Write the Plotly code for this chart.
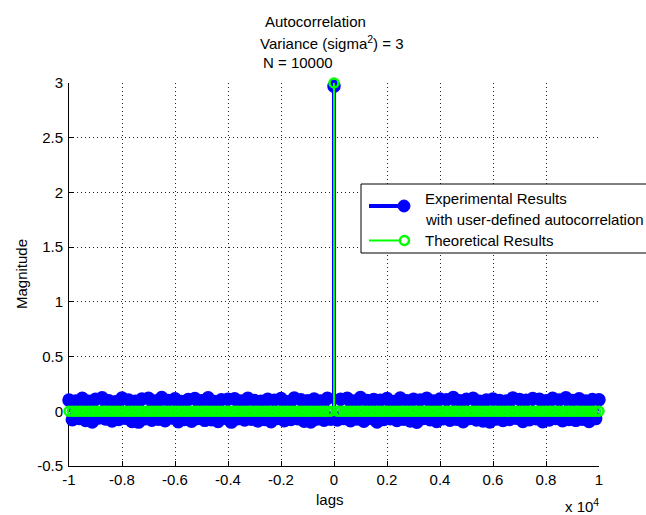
import plotly.graph_objects as go

# ---------------- data ----------------
lag_step = 125
exp_lags = list(range(-10000, 10001, lag_step))  # 161 sampled lags

exp_vals = [
    0.102, -0.078, 0.094, -0.066, 0.118, -0.085, 0.091, -0.097, 0.109, -0.062,
    0.124, -0.071, 0.097, -0.089, 0.088, -0.075, 0.121, -0.064, 0.103, -0.093,
    0.092, -0.099, 0.112, -0.068, 0.119, -0.081, 0.095, -0.072, 0.126, -0.087,
    0.098, -0.061, 0.114, -0.096, 0.089, -0.074, 0.108, -0.091, 0.117, -0.066,
    0.096, -0.083, 0.123, -0.077, 0.090, -0.094, 0.106, -0.063, 0.111, -0.099,
    0.115, -0.069, 0.093, -0.080, 0.120, -0.073, 0.099, -0.088, 0.092, -0.076,
    0.110, -0.095, 0.101, -0.065, 0.116, -0.086, 0.087, -0.074, 0.122, -0.068,
    0.105, -0.090, 0.096, -0.098, 0.113, -0.070, 0.094, -0.082, 0.118, -0.072,
    2.97,
    -0.079, 0.111, -0.067, 0.119, -0.087, 0.095, -0.071, 0.125, -0.092, 0.099,
    -0.064, 0.107, -0.097, 0.100, -0.076, 0.117, -0.069, 0.090, -0.084, 0.121,
    -0.073, 0.096, -0.088, 0.110, -0.100, 0.104, -0.065, 0.118, -0.078, 0.093,
    -0.094, 0.113, -0.068, 0.106, -0.082, 0.126, -0.072, 0.097, -0.096, 0.109,
    -0.066, 0.120, -0.080, 0.091, -0.089, 0.102, -0.098, 0.112, -0.070, 0.099,
    -0.085, 0.094, -0.075, 0.122, -0.063, 0.107, -0.093, 0.101, -0.077, 0.116,
    -0.069, 0.110, -0.095, 0.097, -0.080, 0.118, -0.066, 0.104, -0.086, 0.124,
    -0.075, 0.098, -0.083, 0.115, -0.073, 0.093, -0.094, 0.108, -0.067, 0.106,
]

theo_lags = exp_lags
theo_vals = [0.0] * 80 + [3.0] + [0.0] * 80

x_tickvals = [-10000, -8000, -6000, -4000, -2000, 0, 2000, 4000, 6000, 8000, 10000]
x_ticktext = ["-1", "-0.8", "-0.6", "-0.4", "-0.2", "0", "0.2", "0.4", "0.6", "0.8", "1"]
y_tickvals = [-0.5, 0, 0.5, 1, 1.5, 2, 2.5, 3]
y_ticktext = ["-0.5", "0", "0.5", "1", "1.5", "2", "2.5", "3"]

title_lines = ["Autocorrelation", "Variance (sigma<sup>2</sup>) = 3", "N = 10000"]
legend_labels = ["Experimental Results", "with user-defined autocorrelation", "Theoretical Results"]

# ---------------- styling ----------------
W, H = 646, 515
L, R, T, B = 69, 47, 83, 49
PW, PH = W - L - R, H - T - B
FONT = "Liberation Sans, Arial, Helvetica, sans-serif"
FS = 15
BLUE = "#0000ff"
GREEN = "#00ff00"


def px(x):
    return (x - L) / PW


def py(y):
    return (H - B - y) / PH


def stems(lags, vals):
    xs, ys = [], []
    for l, v in zip(lags, vals):
        xs += [l, l, None]
        ys += [0, v, None]
    return xs, ys


fig = go.Figure()

sx, sy = stems(exp_lags, exp_vals)
fig.add_trace(go.Scatter(x=sx, y=sy, mode="lines", line=dict(color=BLUE, width=4),
                         cliponaxis=False, showlegend=False, hoverinfo="skip"))
fig.add_trace(go.Scatter(x=exp_lags, y=exp_vals, mode="markers",
                         marker=dict(color=BLUE, size=11, line=dict(color=BLUE, width=2.5)),
                         cliponaxis=False, showlegend=False))

tx, ty = stems(theo_lags, theo_vals)
fig.add_trace(go.Scatter(x=tx, y=ty, mode="lines", line=dict(color=GREEN, width=2),
                         cliponaxis=False, showlegend=False, hoverinfo="skip"))
fig.add_trace(go.Scatter(x=theo_lags, y=theo_vals, mode="markers",
                         marker=dict(symbol="circle-open", color=GREEN, size=9,
                                     line=dict(color=GREEN, width=2.5)),
                         cliponaxis=False, showlegend=False))

axis_common = dict(
    showline=True, linecolor="black", linewidth=1, mirror=False,
    ticks="inside", ticklen=5, tickcolor="black", tickwidth=1,
    showgrid=True, gridcolor="#222222", gridwidth=1, griddash="1px,3px",
    zeroline=False, tickfont=dict(family=FONT, size=FS, color="black"),
    layer="below traces",
)

fig.update_xaxes(range=[-10000, 10000], tickmode="array", tickvals=x_tickvals,
                 ticktext=x_ticktext, **axis_common)
fig.update_yaxes(range=[-0.5, 3], tickmode="array", tickvals=y_tickvals,
                 ticktext=y_ticktext, ticklabelstandoff=2, **axis_common)

annotations = []
# title lines
for text, cx, cy in zip(title_lines, [315, 332, 298], [21, 43, 63]):
    annotations.append(dict(text=text, x=px(cx), y=py(cy), xref="paper", yref="paper",
                            xanchor="center", yanchor="middle", showarrow=False,
                            font=dict(family=FONT, size=FS, color="black")))
# axis titles
annotations.append(dict(text="lags", x=px(330), y=py(499), xref="paper", yref="paper",
                        xanchor="center", yanchor="middle", showarrow=False,
                        font=dict(family=FONT, size=FS, color="black")))
annotations.append(dict(text="Magnitude", x=px(21), y=py(274), xref="paper", yref="paper",
                        xanchor="center", yanchor="middle", showarrow=False, textangle=-90,
                        font=dict(family=FONT, size=FS, color="black")))
annotations.append(dict(text="x 10<sup>4</sup>", x=px(601), y=py(505), xref="paper", yref="paper",
                        xanchor="right", yanchor="middle", showarrow=False,
                        font=dict(family=FONT, size=FS, color="black")))
# legend text
for text, cy in zip(legend_labels, [198, 219, 241]):
    annotations.append(dict(text=text, x=px(423), y=py(cy), xref="paper", yref="paper",
                            xanchor="left", yanchor="middle", showarrow=False,
                            font=dict(family=FONT, size=FS, color="black")))

shapes = [
    dict(type="rect", xref="paper", yref="paper", x0=px(361), x1=px(760), y0=py(253), y1=py(184),
         line=dict(color="black", width=1), fillcolor="white", layer="above"),
    dict(type="line", xref="paper", yref="paper", x0=px(369), x1=px(404), y0=py(206), y1=py(206),
         line=dict(color=BLUE, width=4), layer="above"),
    dict(type="circle", xref="paper", yref="paper", x0=px(398), x1=px(410), y0=py(212), y1=py(200),
         line=dict(color=BLUE, width=1), fillcolor=BLUE, layer="above"),
    dict(type="line", xref="paper", yref="paper", x0=px(369), x1=px(404), y0=py(240.5), y1=py(240.5),
         line=dict(color=GREEN, width=2), layer="above"),
    dict(type="circle", xref="paper", yref="paper", x0=px(400), x1=px(409), y0=py(245), y1=py(236),
         line=dict(color=GREEN, width=2.5), fillcolor="white", layer="above"),
]

fig.update_layout(
    width=W, height=H, autosize=False,
    margin=dict(l=L, r=R, t=T, b=B, pad=0),
    paper_bgcolor="white", plot_bgcolor="white",
    showlegend=False, annotations=annotations, shapes=shapes,
    font=dict(family=FONT, size=FS, color="black"),
)

fig.write_html("out.html")
